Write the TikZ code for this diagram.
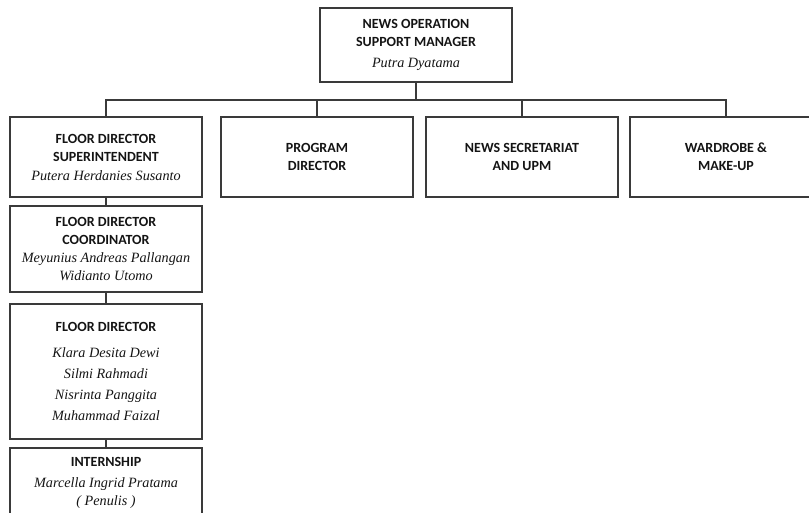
\documentclass[tikz,border=0pt]{standalone}
\usepackage{fontspec}
\setmainfont{Liberation Serif}
\newfontfamily\headfont{Carlito}
\definecolor{linegray}{HTML}{3A3A3A}
\definecolor{textgray}{HTML}{141414}
\newcommand\hd[1]{{\headfont\bfseries\fontsize{14}{18}\selectfont #1}}
\newcommand\nm[1]{{\itshape\fontsize{14.2}{18}\selectfont #1}}
\begin{document}
\begin{tikzpicture}[x=1pt,y=-1pt,
	every node/.style={align=center},
	box/.style={draw=linegray,line width=1.2pt,text=textgray,inner sep=0pt,
		minimum width=192pt,font=\fontsize{14}{18}\selectfont},
	link/.style={draw=linegray,line width=1.2pt}]
	
	\useasboundingbox (0,0) rectangle (809,512);
	\clip (0,0) rectangle (809,512);
	
	\node[box,minimum height=74pt](mgr) at (416,45) {\hd{NEWS OPERATION}\\\hd{SUPPORT MANAGER}\\[3pt]\nm{Putra Dyatama}};
	
	\node[box,minimum height=80pt](fds)  at (106,157) {\hd{FLOOR DIRECTOR}\\\hd{SUPERINTENDENT}\\[1pt]\nm{Putera Herdanies Susanto}};
	\node[box,minimum height=80pt](prog) at (317,157) {\hd{PROGRAM}\\\hd{DIRECTOR}};
	\node[box,minimum height=80pt](news) at (522,157) {\hd{NEWS SECRETARIAT}\\\hd{AND UPM}};
	\node[box,minimum height=80pt](ward) at (726,157) {\hd{WARDROBE \&}\\\hd{MAKE-UP}};
	
	\node[box,minimum height=86pt](coord)  at (106,249) {\hd{FLOOR DIRECTOR}\\\hd{COORDINATOR}\\\nm{Meyunius Andreas Pallangan}\\\nm{Widianto Utomo}};
	\node[box,minimum height=135pt](fd)    at (106,371.5) {\hd{FLOOR DIRECTOR}\\[8pt]\nm{Klara Desita Dewi}\\[3pt]\nm{Silmi Rahmadi}\\[3pt]\nm{Nisrinta Panggita}\\[3pt]\nm{Muhammad Faizal}};
	\node[box,minimum height=69pt](intern) at (106,482.5) {\hd{INTERNSHIP}\\[3pt]\nm{Marcella Ingrid Pratama}\\\nm{( Penulis )}};
	
	% bus line below the manager
	\coordinate (bus) at (416,100);
	\draw[link] (mgr) -- (bus);
	\foreach \n in {fds,prog,news,ward}
		\draw[link] (bus) -| (\n.north);
	
	\draw[link] (fds) -- (coord);
	\draw[link] (coord) -- (fd);
	\draw[link] (fd) -- (intern);
	
\end{tikzpicture}
\end{document}
